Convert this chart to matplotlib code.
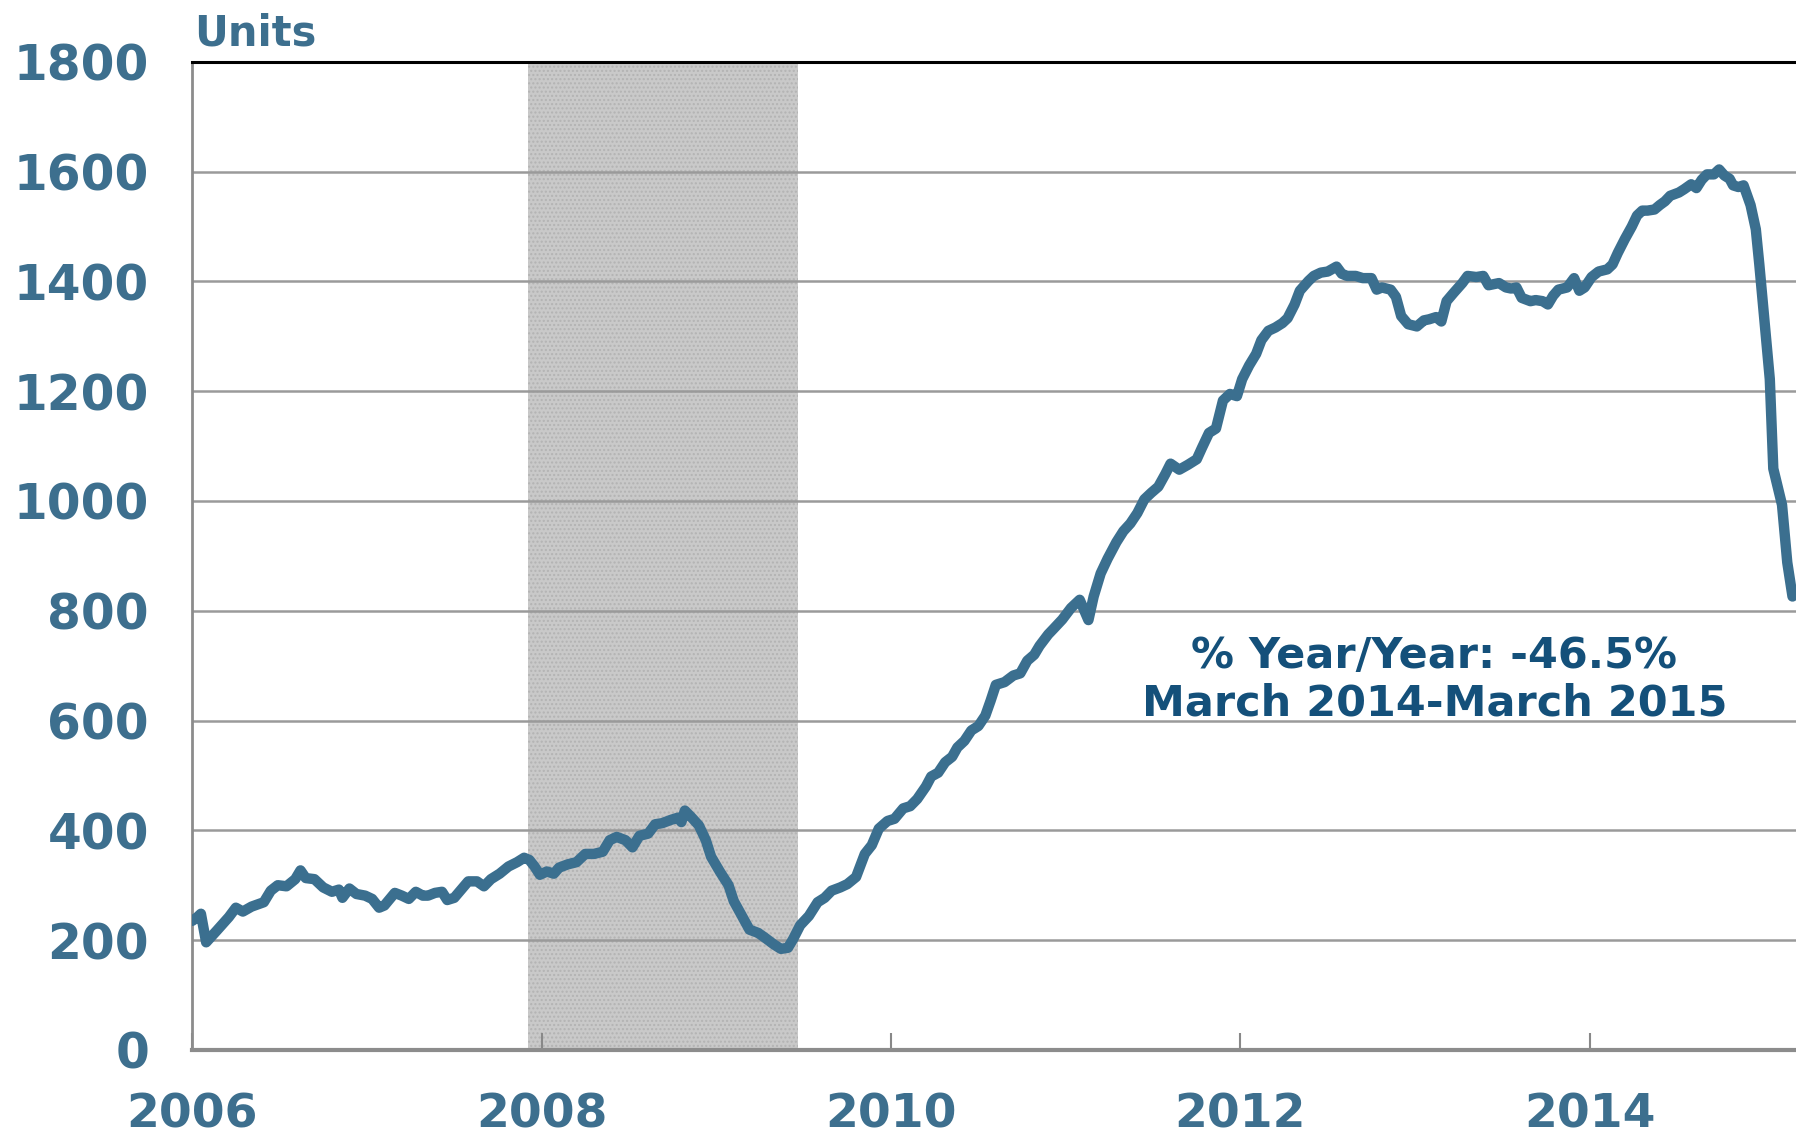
import matplotlib
matplotlib.use("Agg")
import matplotlib.pyplot as plt

# weekly-ish readings, decimal year vs. units
years = [2006.00, 2006.03, 2006.05, 2006.08, 2006.14, 2006.21, 2006.25, 2006.29, 2006.34, 2006.41,
         2006.45, 2006.49, 2006.54, 2006.59, 2006.62, 2006.65, 2006.70, 2006.75, 2006.80, 2006.84,
         2006.86, 2006.90, 2006.94, 2006.99, 2007.03, 2007.07, 2007.10, 2007.16, 2007.20, 2007.24,
         2007.28, 2007.32, 2007.35, 2007.39, 2007.43, 2007.46, 2007.50, 2007.54, 2007.58, 2007.63,
         2007.67, 2007.71, 2007.76, 2007.81, 2007.86, 2007.90, 2007.93, 2007.96, 2007.99, 2008.03,
         2008.07, 2008.10, 2008.15, 2008.20, 2008.25, 2008.30, 2008.35, 2008.39, 2008.43, 2008.48,
         2008.52, 2008.56, 2008.61, 2008.65, 2008.69, 2008.74, 2008.78, 2008.80, 2008.82, 2008.86,
         2008.90, 2008.94, 2008.97, 2009.02, 2009.07, 2009.10, 2009.15, 2009.19, 2009.24, 2009.28,
         2009.33, 2009.37, 2009.41, 2009.44, 2009.48, 2009.53, 2009.58, 2009.62, 2009.66, 2009.71,
         2009.75, 2009.80, 2009.85, 2009.89, 2009.93, 2009.98, 2010.02, 2010.07, 2010.11, 2010.15,
         2010.20, 2010.23, 2010.27, 2010.31, 2010.35, 2010.38, 2010.42, 2010.46, 2010.50, 2010.54,
         2010.57, 2010.60, 2010.65, 2010.70, 2010.74, 2010.78, 2010.82, 2010.85, 2010.90, 2010.93,
         2010.98, 2011.03, 2011.08, 2011.13, 2011.16, 2011.20, 2011.24, 2011.29, 2011.33, 2011.37,
         2011.41, 2011.45, 2011.49, 2011.53, 2011.57, 2011.60, 2011.65, 2011.70, 2011.75, 2011.78,
         2011.82, 2011.86, 2011.90, 2011.94, 2011.98, 2012.01, 2012.05, 2012.09, 2012.12, 2012.16,
         2012.20, 2012.24, 2012.27, 2012.31, 2012.34, 2012.39, 2012.42, 2012.46, 2012.50, 2012.55,
         2012.58, 2012.61, 2012.66, 2012.70, 2012.75, 2012.78, 2012.81, 2012.86, 2012.89, 2012.92,
         2012.96, 2013.01, 2013.05, 2013.08, 2013.12, 2013.15, 2013.18, 2013.22, 2013.27, 2013.30,
         2013.35, 2013.39, 2013.42, 2013.45, 2013.48, 2013.52, 2013.55, 2013.58, 2013.61, 2013.66,
         2013.69, 2013.73, 2013.76, 2013.79, 2013.82, 2013.87, 2013.91, 2013.94, 2013.97, 2014.01,
         2014.05, 2014.10, 2014.13, 2014.16, 2014.20, 2014.24, 2014.27, 2014.30, 2014.33, 2014.37,
         2014.40, 2014.43, 2014.46, 2014.51, 2014.54, 2014.58, 2014.61, 2014.64, 2014.67, 2014.71,
         2014.74, 2014.77, 2014.80, 2014.82, 2014.85, 2014.88, 2014.92, 2014.95, 2014.97, 2015.00,
         2015.03, 2015.05, 2015.10, 2015.13, 2015.16]
units = [235, 242, 248, 196, 217, 242, 259, 252, 261, 269,
         290, 300, 298, 311, 327, 313, 311, 296, 288, 292,
         277, 294, 284, 281, 275, 259, 263, 286, 281, 275,
         288, 281, 281, 286, 288, 273, 277, 292, 307, 307,
         298, 311, 321, 334, 342, 350, 346, 334, 319, 325,
         321, 332, 338, 342, 357, 357, 361, 382, 388, 382,
         369, 390, 394, 411, 413, 419, 423, 415, 436, 423,
         409, 382, 352, 325, 300, 271, 242, 219, 213, 204,
         192, 184, 186, 202, 227, 244, 269, 277, 290, 296,
         302, 315, 357, 373, 403, 417, 421, 440, 444, 457,
         480, 498, 505, 524, 534, 551, 563, 582, 590, 609,
         636, 665, 670, 682, 686, 709, 720, 736, 757, 767,
         784, 805, 820, 783, 826, 868, 895, 925, 945, 959,
         978, 1003, 1015, 1026, 1049, 1068, 1057, 1066, 1076, 1097,
         1124, 1132, 1183, 1195, 1191, 1222, 1247, 1268, 1293, 1310,
         1316, 1324, 1333, 1358, 1383, 1401, 1410, 1416, 1418, 1427,
         1414, 1410, 1410, 1406, 1406, 1385, 1389, 1385, 1372, 1337,
         1322, 1318, 1329, 1331, 1335, 1327, 1364, 1379, 1397, 1410,
         1408, 1410, 1393, 1395, 1397, 1389, 1387, 1389, 1370, 1364,
         1366, 1364, 1358, 1374, 1385, 1389, 1406, 1383, 1389, 1408,
         1418, 1422, 1431, 1452, 1477, 1500, 1520, 1529, 1529, 1531,
         1539, 1546, 1556, 1562, 1568, 1577, 1570, 1585, 1595, 1595,
         1604, 1593, 1587, 1575, 1572, 1575, 1539, 1495, 1431, 1326,
         1222, 1059, 993, 888, 826]

recession = (2007.92, 2009.47)
xticks = [2006, 2008, 2010, 2012, 2014]
yticks = list(range(0, 1801, 200))

label_blue = "#3d6f8e"
line_blue = "#3b6f8f"
note_blue = "#14507a"

fig = plt.figure(figsize=(17.96, 11.35), dpi=100)
ax = fig.add_axes([0.107, 0.075, 0.893, 0.8705])

ax.axvspan(*recession, facecolor="#c9c9c9", edgecolor="#b3b3b3", hatch="....", linewidth=0, zorder=1)
ax.plot(years, units, color=line_blue, linewidth=7.5, solid_joinstyle="round",
        solid_capstyle="round", zorder=3)

ax.set_xlim(2006, 2015.18)
ax.set_ylim(0, 1800)
ax.set_xticks(xticks)
ax.set_yticks(yticks)
ax.grid(axis="y", color="#9a9a9a", linewidth=1.8)

ax.tick_params(axis="y", length=0, pad=31, labelsize=35, labelcolor=label_blue)
ax.tick_params(axis="x", direction="in", length=12, width=1.5, color="#888888",
               pad=31, labelsize=34, labelcolor=label_blue)
for lab in ax.get_xticklabels() + ax.get_yticklabels():
    lab.set_fontweight("bold")

ax.spines["right"].set_visible(False)
ax.spines["top"].set_color("black")
ax.spines["top"].set_linewidth(2.2)
ax.spines["left"].set_color("#8c8c8c")
ax.spines["left"].set_linewidth(2)
ax.spines["bottom"].set_color("#8c8c8c")
ax.spines["bottom"].set_linewidth(3)

fig.text(0.108, 1 - 46 / 1135, "Units", fontsize=30, fontweight="bold",
         color=label_blue, va="baseline", ha="left")
ax.text(2013.11, 674, "% Year/Year: -46.5%\nMarch 2014-March 2015", fontsize=31,
        fontweight="bold", color=note_blue, ha="center", va="center", linespacing=1.15)

fig.savefig("out.png", dpi=100)
